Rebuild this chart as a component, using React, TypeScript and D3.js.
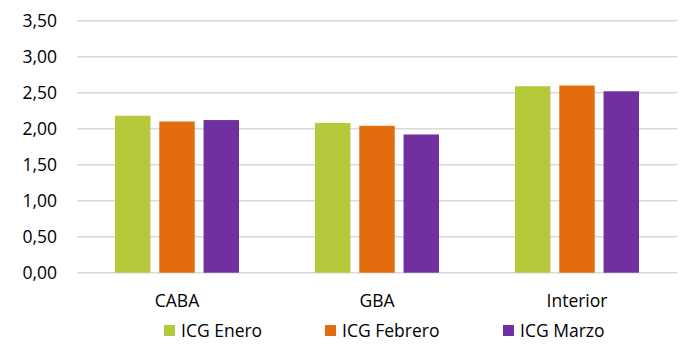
import React from "react";
import * as d3 from "d3";

const categories = ["CABA", "GBA", "Interior"];
const seriesNames = ["ICG Enero", "ICG Febrero", "ICG Marzo"];
const enero = [2.18, 2.08, 2.59];
const febrero = [2.1, 2.04, 2.6];
const marzo = [2.12, 1.92, 2.52];
const yTicks = [0, 0.5, 1, 1.5, 2, 2.5, 3, 3.5];
const colors = ["#B5C93A", "#E36C0D", "#7030A0"];

const W = 694;
const H = 358;
const FONT = "'Open Sans', sans-serif";
const FS = 17.5;

export default function App() {
  const series = [enero, febrero, marzo];
  const x0 = d3.scaleBand<string>().domain(categories).range([77, 677]).paddingInner(0).paddingOuter(0);
  const x1 = d3
    .scaleBand<string>()
    .domain(seriesNames)
    .range([38, 162])
    .paddingInner(0.2)
    .paddingOuter(0);
  const y = d3.scaleLinear().domain([0, 3.5]).range([272.7, 20.7]);
  const fmt = (v: number) => d3.format(".2f")(v).replace(".", ",");
  const legendX = [164, 325, 503];

  return (
    <svg width={W} height={H} style={{ position: "absolute", left: 0, top: 0, display: "block" }}>
      <rect x={0} y={0} width={W} height={H} fill="#fff" />
      {yTicks.map((t) => (
        <g key={t}>
          <line x1={77} x2={677} y1={y(t)} y2={y(t)} stroke="#d9d9d9" strokeWidth={1.5} />
          <text x={57} y={y(t)} dy="0.36em" textAnchor="end" fontFamily={FONT} fontSize={FS} fill="#000">
            {fmt(t)}
          </text>
        </g>
      ))}
      {categories.map((c, ci) => (
        <g key={c} transform={`translate(${x0(c)},0)`}>
          {series.map((s, si) => (
            <rect
              key={si}
              x={x1(seriesNames[si])}
              y={y(s[ci])}
              width={x1.bandwidth()}
              height={y(0) - y(s[ci])}
              fill={colors[si]}
            />
          ))}
          <text
            x={x0.bandwidth() / 2}
            y={306.5}
            textAnchor="middle"
            fontFamily={FONT}
            fontSize={FS}
            fill="#000"
          >
            {c}
          </text>
        </g>
      ))}
      {seriesNames.map((n, i) => (
        <g key={n}>
          <rect x={legendX[i]} y={325} width={11} height={11} fill={colors[i]} />
          <text x={legendX[i] + 17} y={336.5} fontFamily={FONT} fontSize={FS} fill="#000">
            {n}
          </text>
        </g>
      ))}
    </svg>
  );
}
